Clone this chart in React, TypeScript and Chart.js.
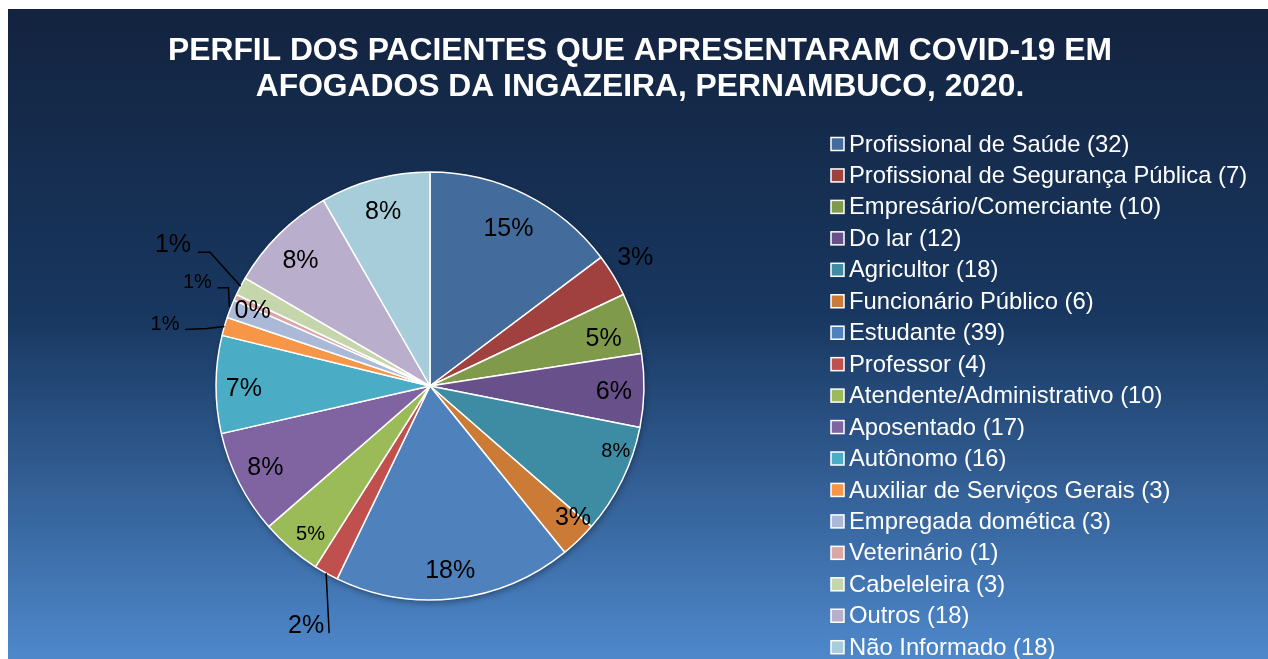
import { useEffect, useRef } from 'react';
import { Chart, registerables } from 'chart.js';

Chart.register(...registerables);

const titleLines = [
  'PERFIL DOS PACIENTES QUE APRESENTARAM COVID-19 EM',
  'AFOGADOS DA INGAZEIRA, PERNAMBUCO, 2020.',
];

const categories = [
  'Profissional de Saúde',
  'Profissional de Segurança Pública',
  'Empresário/Comerciante',
  'Do lar',
  'Agricultor',
  'Funcionário Público',
  'Estudante',
  'Professor',
  'Atendente/Administrativo',
  'Aposentado',
  'Autônomo',
  'Auxiliar de Serviços Gerais',
  'Empregada domética',
  'Veterinário',
  'Cabeleleira',
  'Outros',
  'Não Informado',
];

const counts = [32, 7, 10, 12, 18, 6, 39, 4, 10, 17, 16, 3, 3, 1, 3, 18, 18];

const sliceColors = [
  '#436b9b', '#a0413f', '#7f9a4a', '#68508a', '#3d8ca3', '#cc7b37',
  '#4f81bd', '#c0504d', '#9bbb59', '#8064a2', '#4bacc6', '#f79646',
  '#aab9d7', '#d9a8a6', '#c5d6aa', '#b9aecb', '#a7cddb',
];

// label styling: radial fraction, font size key, angle shift (deg)
type LabelStyle = {
  r?: number;
  big: boolean;
  dA?: number;
  leader?: number[][];
  off?: number[];
};
const labelStyles: LabelStyle[] = [
  { r: 0.82, big: true, dA: 0 },
  { r: 1.13, big: true, dA: -0.8 },
  { r: 0.84, big: true, dA: 1.9 },
  { r: 0.86, big: true, dA: 0.7 },
  { r: 0.92, big: false, dA: -6.8 },
  { r: 0.91, big: true, dA: -3.3 },
  { r: 0.87, big: true, dA: 0.4 },
  { big: true, leader: [[0, 0], [3, 60]], off: [-20, 53] },
  { r: 0.89, big: false, dA: -1.8 },
  { r: 0.86, big: true, dA: 0.4 },
  { r: 0.87, big: true, dA: -1.4 },
  { big: false, leader: [[0, 0], [-17.5, 2], [-39.5, 3]], off: [-59.5, -2] },
  { big: false, leader: [[-1, -2], [-2, -21], [-13, -21]], off: [-33, -26] },
  { r: 0.9, big: true, dA: -1.6 },
  { big: true, leader: [[0, 0], [-30.7, -34], [-42.7, -34]], off: [-67.7, -41] },
  { r: 0.84, big: true, dA: -1.3 },
  { r: 0.84, big: true, dA: -0.2 },
];

const FONT = '"Liberation Sans", Arial, sans-serif';

const backgroundPlugin = {
  id: 'bgGradient',
  beforeDraw(chart: any) {
    const { ctx, width, height } = chart;
    const g = ctx.createLinearGradient(0, 0, 0, height);
    g.addColorStop(0, '#13233f');
    g.addColorStop(0.47, '#183760');
    g.addColorStop(1, '#4e88cb');
    ctx.save();
    ctx.fillStyle = g;
    ctx.fillRect(0, 0, width, height);
    ctx.restore();
  },
  beforeDatasetsDraw(chart: any) {
    // soft shadow under the pie
    const { ctx } = chart;
    const meta = chart.getDatasetMeta(0);
    const arc = meta.data[0];
    if (!arc) return;
    const { x, y, outerRadius } = arc.getProps(['x', 'y', 'outerRadius'], true);
    ctx.save();
    ctx.shadowColor = 'rgba(0,0,0,0.35)';
    ctx.shadowBlur = 6;
    ctx.shadowOffsetX = 1;
    ctx.shadowOffsetY = 3;
    ctx.fillStyle = '#ffffff';
    ctx.beginPath();
    ctx.arc(x, y, outerRadius, 0, Math.PI * 2);
    ctx.fill();
    ctx.restore();
  },
};

const pieLabelPlugin = {
  id: 'pieLabels',
  afterDatasetsDraw(chart: any) {
    const { ctx } = chart;
    const meta = chart.getDatasetMeta(0);
    const data = chart.data.datasets[0].data as number[];
    const total = data.reduce((a, b) => a + b, 0);
    ctx.save();
    ctx.fillStyle = '#000';
    ctx.strokeStyle = '#000';
    ctx.lineWidth = 1.5;
    ctx.textAlign = 'center';
    ctx.textBaseline = 'middle';
    meta.data.forEach((arc: any, i: number) => {
      const { x, y, startAngle, endAngle, outerRadius } = arc.getProps(
        ['x', 'y', 'startAngle', 'endAngle', 'outerRadius'],
        true
      );
      const st = labelStyles[i];
      const txt = Math.round((data[i] / total) * 100) + '%';
      ctx.font = `${st.big ? 25 : 20}px ${FONT}`;
      const mid = (startAngle + endAngle) / 2;
      if (st.leader) {
        const ex = x + Math.cos(mid) * outerRadius;
        const ey = y + Math.sin(mid) * outerRadius;
        ctx.beginPath();
        st.leader.forEach((p, k) => {
          if (k === 0) ctx.moveTo(ex + p[0], ey + p[1]);
          else ctx.lineTo(ex + p[0], ey + p[1]);
        });
        ctx.stroke();
        ctx.fillText(txt, ex + st.off![0], ey + st.off![1]);
      } else {
        const a = mid + ((st.dA || 0) * Math.PI) / 180;
        const rr = (st.r || 0.85) * outerRadius;
        ctx.fillText(txt, x + Math.cos(a) * rr, y + Math.sin(a) * rr);
      }
    });
    ctx.restore();
  },
};

const titleLegendPlugin = {
  id: 'titleLegend',
  afterDraw(chart: any) {
    const { ctx } = chart;
    ctx.save();
    ctx.fillStyle = '#ffffff';
    ctx.textAlign = 'center';
    ctx.textBaseline = 'middle';
    ctx.font = `bold 31.8px ${FONT}`;
    titleLines.forEach((t, i) => ctx.fillText(t, 632, 42 + i * 36.5));

    const labels = chart.data.labels as string[];
    const data = chart.data.datasets[0].data as number[];
    const cols = chart.data.datasets[0].backgroundColor as string[];
    ctx.font = `23.8px ${FONT}`;
    ctx.textAlign = 'left';
    labels.forEach((l, i) => {
      const cy = 135 + i * 31.45;
      ctx.fillStyle = cols[i];
      ctx.fillRect(823, cy - 6.5, 13, 13);
      ctx.strokeStyle = '#ffffff';
      ctx.lineWidth = 1.5;
      ctx.strokeRect(823, cy - 6.5, 13, 13);
      ctx.fillStyle = '#ffffff';
      ctx.fillText(`${l} (${data[i]})`, 841, cy + 1);
    });
    ctx.restore();
  },
};

export default function App() {
  const ref = useRef<HTMLCanvasElement | null>(null);
  useEffect(() => {
    document.body.style.overflow = 'hidden';
    const canvas = ref.current!;
    const chart = new Chart(canvas, {
      type: 'pie',
      data: {
        labels: categories,
        datasets: [
          {
            data: counts,
            backgroundColor: sliceColors,
            borderColor: '#ffffff',
            borderWidth: 1.5,
            hoverOffset: 0,
            radius: 214,
          } as any,
        ],
      },
      options: {
        responsive: false,
        animation: false,
        events: [],
        layout: { padding: { left: 208, right: 624, top: 163, bottom: 59 } },
        plugins: {
          legend: { display: false },
          title: { display: false },
          tooltip: { enabled: false },
        },
      },
      plugins: [backgroundPlugin, pieLabelPlugin, titleLegendPlugin],
    });
    return () => chart.destroy();
  }, []);
  return (
    <div style={{ position: 'fixed', left: 8, top: 9, width: 1260, height: 650 }}>
      <canvas ref={ref} width={1260} height={650} style={{ display: 'block' }} />
    </div>
  );
}
